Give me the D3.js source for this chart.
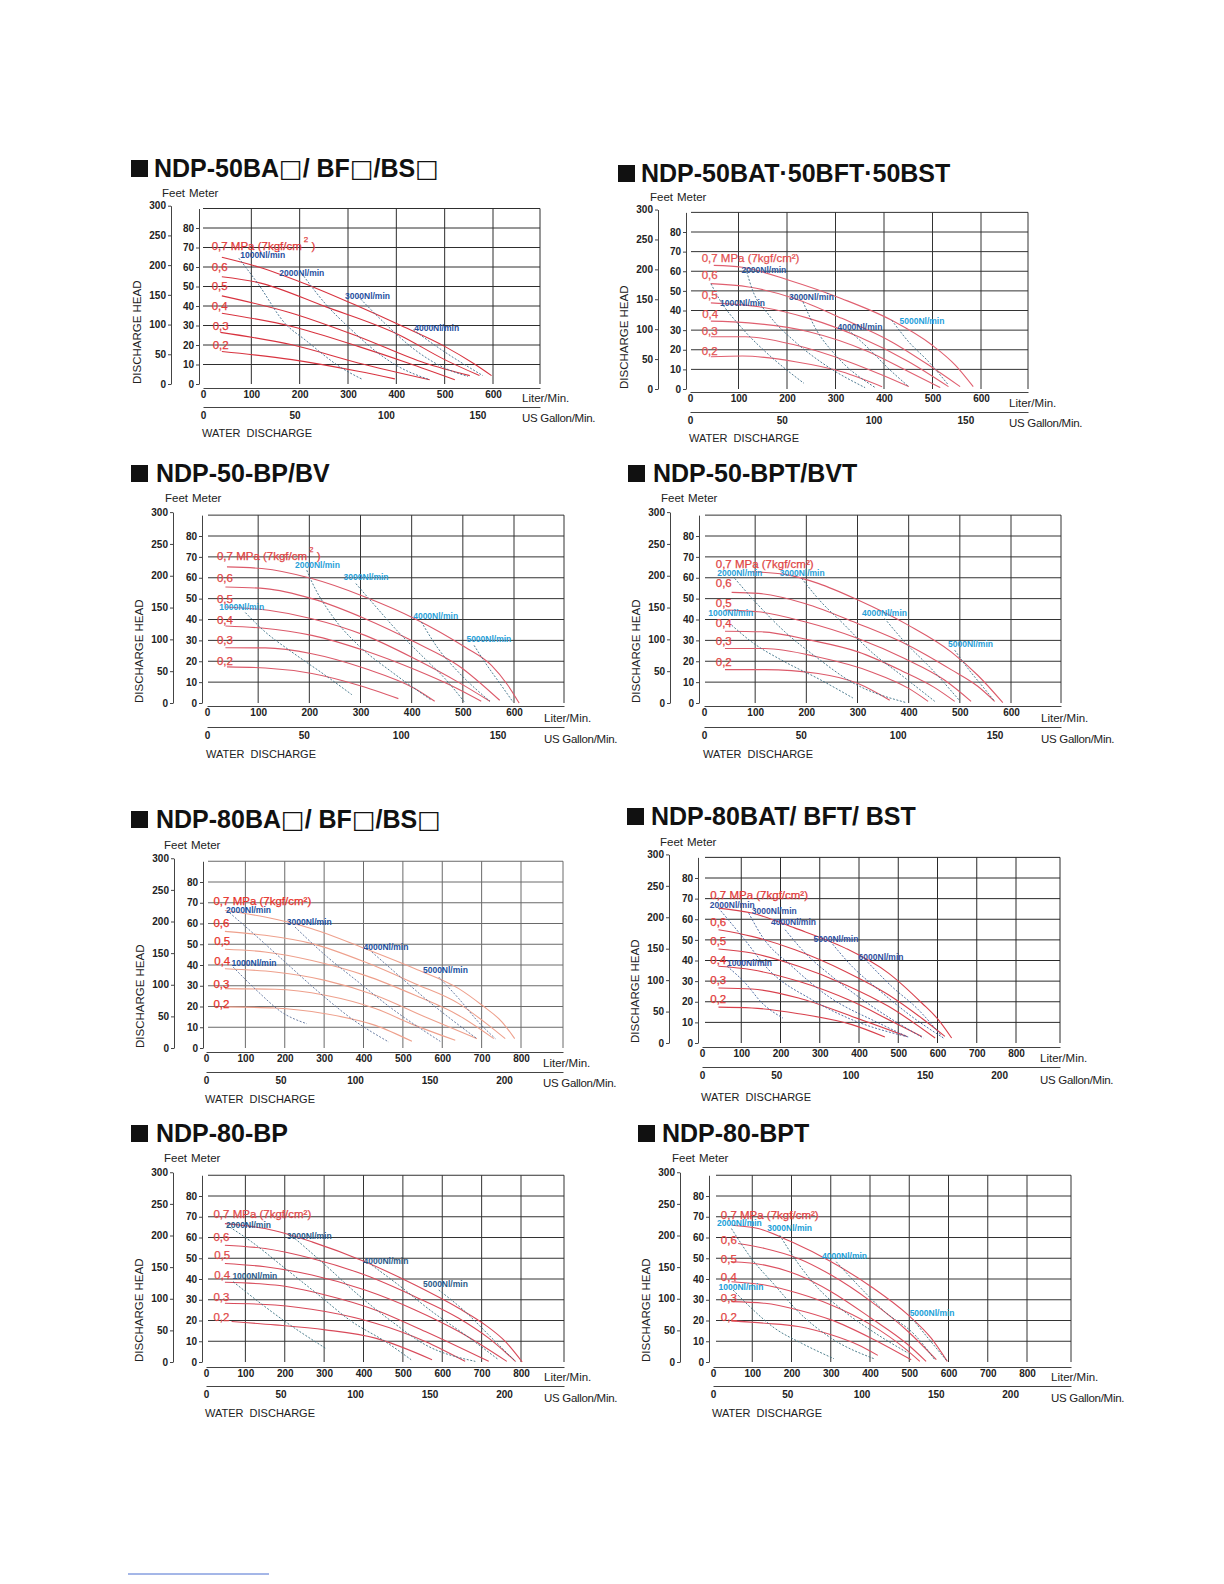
<!DOCTYPE html>
<html><head><meta charset="utf-8">
<script src="https://cdn.jsdelivr.net/npm/d3@7"></script>
<style>body{margin:0;background:#fff} svg{display:block}</style>
</head><body><svg id="c" width="1224" height="1584"></svg>
<script>
// ---------------- shared tick labels ----------------
const feetTicks = [0, 50, 100, 150, 200, 250, 300];
const meterTicks = [0, 10, 20, 30, 40, 50, 60, 70, 80];
const meterGrid = [10, 20, 30, 40, 50, 60, 70, 80, 90];
const literTicks50 = [0, 100, 200, 300, 400, 500, 600];
const literTicks80 = [0, 100, 200, 300, 400, 500, 600, 700, 800];
const gallonTicks50 = [0, 50, 100, 150];
const gallonTicks80 = [0, 50, 100, 150, 200];
const pressureLabels = ["0,7 MPa (7kgf/cm²)", "0,6", "0,5", "0,4", "0,3", "0,2"];

// ---------------- panel 1 : NDP-50BA□/ BF□/BS□ ----------------
const p1Title = "NDP-50BA□/ BF□/BS□";
const p1Pressure = [
  [[39,65],[115,60],[208,51.7],[320,40],[406,30.4],[500,19.3],[560,10.5],[597,4.3]],
  [[39,55],[115,52],[252,39.8],[405,25.3],[500,12.5],[572,4.3]],
  [[39,45.2],[184,36.3],[321,24.4],[459,10.8],[552,4.3]],
  [[39,36.3],[184,29.5],[321,19.3],[424,10.8],[521,2.2]],
  [[36,26.5],[184,20.1],[321,10.8],[469,2.2]],
  [[39,16.7],[184,12.5],[321,6.5],[397,2.6]]
];
const p1PressureLabelAt = [[18,68.8],[18,58.2],[18,48.3],[18,38],[20,27.8],[20,18.1]];
const p1AirLabels = ["1000Nl/min", "2000Nl/min", "3000Nl/min", "4000Nl/min"];
const p1Air = [
  [[74,64.5],[115,51],[170,31],[211,22.7],[287,8.2],[328,2.6]],
  [[204,56.8],[252,41.5],[307,27.8],[362,15.9],[404,9],[469,2.2]],
  [[321,44.9],[383,29.5],[438,17.6],[500,8.2],[548,3.9]],
  [[435,27.8],[493,17.6],[579,4.3]]
];
const p1AirLabelAt = [[77,64.5],[158,55.5],[294,43.7],[437,27]];

// ---------------- panel 2 : NDP-50BAT·50BFT·50BST ----------------
const p2Title = "NDP-50BAT·50BFT·50BST";
const p2Pressure = [
  [[49,63],[108,62],[204,55.4],[313,46],[416,35],[499,22.4],[547,12.2],[584,1.2]],
  [[43,53.7],[121,52],[217,46],[313,36],[416,24],[492,12.2],[557,1.2]],
  [[43,43.9],[142,41.9],[245,36],[348,26.6],[451,13.9],[533,1.2]],
  [[43,34.6],[121,33.7],[245,29.2],[368,19],[451,8.8],[516,0.7]],
  [[43,26.6],[115,26.6],[217,22.4],[327,13.9],[396,7.1],[451,1.2]],
  [[43,16.4],[108,16.8],[217,13.9],[313,8.8],[396,1.2]]
];
const p2PressureLabelAt = [[24,64.7],[24,55.8],[24,46.1],[25,36.3],[24,27.5],[24,17.3]];
const p2AirLabels = ["1000Nl/min", "2000Nl/min", "3000Nl/min", "4000Nl/min", "5000Nl/min"];
const p2Air = [
  [[43,53.7],[60,46],[108,30.8],[163,17.3],[204,8.8],[235,2.9]],
  [[115,61.4],[128,51],[163,37.6],[217,24],[279,12.2],[361,0.7]],
  [[233,44.4],[259,30.8],[300,17.3],[382,0.7]],
  [[327,30],[368,20.7],[409,10.5],[451,1.2]],
  [[416,35],[451,24],[492,13.9],[533,2]]
];
const p2AirLabelAt = [[62,42.4],[106,59.3],[204,45.6],[304,30.3],[432,32.9]];

// ---------------- panel 3 : NDP-50-BP/BV ----------------
const p3Title = "NDP-50-BP/BV";
const p3Pressure = [
  [[39,65.2],[107,64.4],[205,59.6],[309,50.8],[406,40.4],[504,26.8],[556,18],[588,8.5],[610,0]],
  [[36,55.6],[114,54.8],[205,50],[309,40.4],[406,29.2],[491,18],[572,1.3]],
  [[36,46],[120,44.4],[205,40.4],[309,32.4],[406,21.2],[491,10],[553,0.8]],
  [[36,36.9],[107,35.9],[205,32.4],[309,25],[406,16],[480,8],[536,0.8]],
  [[36,26.5],[114,26.4],[205,23.6],[309,16.5],[406,6.9],[445,0.8]],
  [[39,17.3],[114,16.8],[205,14.1],[296,8.5],[374,2.1]]
];
const p3PressureLabelAt = [[19.5,68.7],[19.5,58],[19.5,48.1],[19.5,38],[19.5,28.1],[19.5,18.4]];
const p3AirLabels = ["1000Nl/min", "2000Nl/min", "3000Nl/min", "4000Nl/min", "5000Nl/min"];
const p3Air = [
  [[75,43.3],[114,34],[166,24.4],[231,13.3],[283,4]],
  [[195,63.6],[205,58],[244,42],[296,27.6],[361,14.9],[439,1.3]],
  [[291,57.2],[322,48.4],[374,34],[426,21.2],[465,11.7],[503,0.5]],
  [[419,38.8],[452,26],[491,14.9],[553,0.8]],
  [[522,27.6],[543,19.6],[575,8.5],[598,0.5]]
];
const p3AirLabelAt = [[24,44.7],[172,64.9],[267,59.1],[403,40.1],[507,29.2]];

// ---------------- panel 4 : NDP-50-BPT/BVT ----------------
const p4Title = "NDP-50-BPT/BVT";
const p4Pressure = [
  [[93,62.9],[158,61.6],[223,57.3],[301,49.3],[399,37.3],[483,24.5],[535,13.3],[584,0.2]],
  [[54,53],[106,52.5],[197,47.7],[301,38],[399,27.7],[483,16],[535,8],[568,0.8]],
  [[41,44.5],[106,43.7],[197,38.9],[301,30.9],[392,21.3],[470,11],[522,0.8]],
  [[41,34.4],[112,34.1],[210,30],[301,24.5],[386,15.5],[450,7.5],[490,0.8]],
  [[41,26.1],[119,26.1],[223,22],[327,14.9],[400,7],[438,0.8]],
  [[41,16],[119,16],[223,14.1],[301,9.3],[363,1.3]]
];
const p4PressureLabelAt = [[23,64.8],[23,55.7],[23,46.1],[23,36.2],[23,27.7],[23,17.6]];
const p4AirLabels = ["1000Nl/min", "2000Nl/min", "3000Nl/min", "4000Nl/min", "5000Nl/min"];
const p4Air = [
  [[54,37.3],[93,29.3],[158,19.7],[223,11.7],[291,2.4]],
  [[60,59.7],[106,46.9],[158,34.1],[223,21.3],[288,10.1],[395,0.2]],
  [[191,59.7],[223,50],[275,37.3],[327,24.5],[386,13.3],[451,0.8]],
  [[353,40.5],[392,29.3],[444,16.5],[499,1.3]],
  [[490,25.3],[516,16.5],[548,6.9],[568,0.8]]
];
const p4AirLabelAt = [[8.5,41.8],[26,60.8],[148,60.8],[309,41.6],[477,26.6]];

// ---------------- panel 5 : NDP-80BA□/ BF□/BS□ ----------------
const p5Title = "NDP-80BA□/ BF□/BS□";
const p5Pressure = [
  [[48,66.3],[150,63.1],[269,57.5],[404,47.9],[531,38.2],[642,28.6],[701,20.6],[752,12.5],[784,4.5]],
  [[48,56.2],[150,54.3],[269,50.3],[404,41.4],[531,31],[642,21.4],[718,10.9],[760,4.5]],
  [[48,47.6],[150,46.3],[269,42.2],[404,35],[531,25.4],[642,15.7],[731,4.5]],
  [[48,38.2],[175,36.6],[303,32.6],[430,25.4],[557,14.9],[688,4.5]],
  [[48,28.6],[175,28.3],[303,25.4],[430,19],[531,10.9],[633,3.7]],
  [[48,19.8],[175,19.3],[303,16.5],[430,10.9],[523,3.2]]
];
const p5PressureLabelAt = [[19,68.8],[19,58.3],[21,49.5],[21,40.2],[19,29.1],[19,19.4]];
const p5AirLabels = ["1000Nl/min", "2000Nl/min", "3000Nl/min", "4000Nl/min", "5000Nl/min"];
const p5Air = [
  [[69,39],[133,27],[192,17.3],[256,11.7]],
  [[53,66.3],[116,55.9],[201,41.4],[286,27],[370,14.1],[464,2.9]],
  [[226,58.3],[303,44.7],[387,31.8],[472,19],[595,3.2]],
  [[421,46.3],[489,35],[557,23.8],[688,4.5]],
  [[591,34.2],[642,23.8],[692,12.5],[735,4.5]]
];
const p5AirLabelAt = [[65,39.5],[51,65],[205,59.4],[400,47.1],[551,36.1]];

// ---------------- panel 6 : NDP-80BAT/ BFT/ BST ----------------
const p6Title = "NDP-80BAT/ BFT/ BST";
const p6Pressure = [
  [[42,65.4],[127,63],[237,55.7],[365,46],[475,33.9],[560,19.4],[602,11.3],[636,2.4]],
  [[42,54.9],[127,51.7],[237,45.2],[365,34.7],[475,23.4],[560,12],[619,3.2]],
  [[42,45.6],[127,43.6],[246,37.2],[365,28.3],[475,17.8],[594,2.4]],
  [[42,37.2],[127,35.5],[246,29.9],[382,20.2],[492,9.7],[560,3.2]],
  [[42,26.7],[127,26.2],[246,21.8],[382,12.9],[522,3.2]],
  [[42,17.4],[127,17],[246,14.2],[382,8.9],[466,2.9]]
];
const p6PressureLabelAt = [[21,69.6],[21,56.9],[21,47.3],[21,38.4],[21,28.8],[21,19.4]];
const p6AirLabels = ["1000Nl/min", "2000Nl/min", "3000Nl/min", "4000Nl/min", "5000Nl/min", "6000Nl/min"];
const p6Air = [
  [[64,37.2],[110,29.1],[153,19.4],[206,12.1]],
  [[42,65.4],[102,51.7],[170,35.5],[280,21],[382,11.3],[526,2.9]],
  [[119,63],[153,51.7],[229,37.2],[322,22.6],[450,9.7],[522,3.2]],
  [[212,54.9],[263,43.6],[331,32.3],[433,17.8],[564,2.4]],
  [[327,49.3],[382,37.2],[450,25.8],[534,12.9],[615,2.4]],
  [[416,40.4],[483,27.5],[551,16.2],[611,3.2]]
];
const p6AirLabelAt = [[64,37.2],[20,65.4],[127,62.5],[176,57],[284,49],[399,40.4]];

// ---------------- panel 7 : NDP-80-BP ----------------
const p7Title = "NDP-80-BP";
const p7Pressure = [
  [[48,66.7],[150,64.3],[269,57.9],[404,48.3],[531,37.1],[642,25.9],[709,17.9],[760,9.9],[803,0]],
  [[48,56.3],[150,54.7],[269,49.9],[404,41.9],[531,31.5],[642,21.1],[718,11.5],[786,0.3]],
  [[48,47.5],[150,45.9],[269,41.9],[404,34.7],[531,25.1],[642,14.7],[764,0.3]],
  [[48,38.4],[175,37.1],[303,32.3],[430,25.1],[557,14.7],[718,0.3]],
  [[48,28.3],[175,27.5],[303,24.3],[430,18.7],[557,9.9],[658,0.3]],
  [[65,19.5],[175,17.9],[303,15.5],[430,11.5],[574,1.1]]
];
const p7PressureLabelAt = [[19,69.2],[19,58.2],[21,49.6],[21,40],[19,29.4],[19,19.8]];
const p7AirLabels = ["1000Nl/min", "2000Nl/min", "3000Nl/min", "4000Nl/min", "5000Nl/min"];
const p7Air = [
  [[69,38.7],[133,29.1],[201,19.5],[303,6.7]],
  [[53,65.9],[116,57.9],[201,45.1],[286,32.3],[370,19.5],[455,9.9],[521,1.1]],
  [[226,59.5],[303,46.7],[387,32.3],[472,19.5],[557,8.3],[684,0.3]],
  [[421,46.7],[489,37.1],[574,24.3],[658,13.1],[743,1.1]],
  [[591,34.7],[658,24.3],[726,11.5],[786,0.3]]
];
const p7AirLabelAt = [[67,39.8],[51,64.8],[205,59.5],[400,47.4],[551,36.3]];

// ---------------- panel 8 : NDP-80-BPT ----------------
const p8Title = "NDP-80-BPT";
const p8Pressure = [
  [[47,65.9],[115,64.3],[200,57.9],[301,48.3],[403,36.3],[497,22.7],[556,11.5],[597,0.3]],
  [[64,57.1],[132,54.7],[217,49.9],[301,41.9],[403,29.1],[497,14.7],[569,1.1]],
  [[47,48.3],[132,46.7],[217,41.9],[301,33.9],[403,21.1],[497,8.3],[543,0.3]],
  [[47,38.7],[132,37.1],[217,33.1],[301,27.5],[403,17.9],[488,6.7],[527,0.3]],
  [[47,29.1],[132,28.3],[217,25.1],[301,20.3],[403,11.5],[505,1.1]],
  [[47,19.8],[132,18.7],[217,17.1],[301,13.1],[369,8.3],[420,3.2]]
];
const p8PressureLabelAt = [[20,68.8],[20,57.1],[20,47.8],[20,39],[20,29.1],[20,19.8]];
const p8AirLabels = ["1000Nl/min", "2000Nl/min", "3000Nl/min", "4000Nl/min", "5000Nl/min"];
const p8Air = [
  [[51,34.7],[98,25.9],[157,16.3],[225,9.1],[308,1.6]],
  [[47,64.3],[98,49.9],[157,37.1],[217,24.3],[301,11.5],[410,1.6]],
  [[170,61.1],[208,49.9],[268,35.5],[335,24.3],[420,13.1],[497,4.3]],
  [[314,48.3],[369,37.1],[437,24.3],[514,13.1],[565,1.1]],
  [[510,20.3],[548,11.5],[597,0.3]]
];
const p8AirLabelAt = [[14,34.6],[10,65.4],[138,63.2],[278,49.6],[501,22.4]];

// ---------------- layout (pixels) & styles ----------------
const FONT = "'Liberation Sans', Arial, Helvetica, sans-serif";
const M_PER_FT = 0.3048, L_PER_GAL = 3.785;

const panels = [
  { title: p1Title, pressure: p1Pressure, pLabelAt: p1PressureLabelAt, air: p1Air, airLabels: p1AirLabels, airAt: p1AirLabelAt,
    liter: literTicks50, gallon: gallonTicks50, detachedSup: true,
    L: {sq:131, tx:154, ty:177, fx:162, fy:197, feetX:171, meterX:199, x0:203, xRef:[600,493], y0:384, y80:228,
        gridLeft:203, gridRight:540, litY:388, galY:407, unitX:522, litUnitY:402, galUnitY:422, wdY:437},
    S: {red:"#e23b3b", redLine:"#d8333f", air:"#3d6b8c", airText:"#1f4f9f", grid:"#2e2e2e"} },
  { title: p2Title, pressure: p2Pressure, pLabelAt: p2PressureLabelAt, air: p2Air, airLabels: p2AirLabels, airAt: p2AirLabelAt,
    liter: literTicks50, gallon: gallonTicks50,
    L: {sq:618, tx:641, ty:182, fx:650, fy:201, feetX:658, meterX:686, x0:690, xRef:[600,981], y0:389, y80:232,
        gridLeft:691, gridRight:1028, litY:392, galY:412, unitX:1009, litUnitY:407, galUnitY:427, wdY:442},
    S: {red:"#e35050", redLine:"#e06070", air:"#3b6b86", airText:["#2b559a","#2b559a","#2b559a","#2b559a","#1ea0dc"], grid:"#333"} },
  { title: p3Title, pressure: p3Pressure, pLabelAt: p3PressureLabelAt, air: p3Air, airLabels: p3AirLabels, airAt: p3AirLabelAt,
    liter: literTicks50, gallon: gallonTicks50, detachedSup: true,
    L: {sq:131, tx:156, ty:482, fx:165, fy:502, feetX:173, meterX:202, x0:207, xRef:[600,514], y0:703, y80:536,
        gridLeft:208, gridRight:564, litY:706, galY:727, unitX:544, litUnitY:722, galUnitY:743, wdY:758},
    S: {red:"#e04545", redLine:"#dc5a6a", air:"#3b6f86", airText:"#2a9fd8", grid:"#333"} },
  { title: p4Title, pressure: p4Pressure, pLabelAt: p4PressureLabelAt, air: p4Air, airLabels: p4AirLabels, airAt: p4AirLabelAt,
    liter: literTicks50, gallon: gallonTicks50,
    L: {sq:628, tx:653, ty:482, fx:661, fy:502, feetX:670, meterX:699, x0:704, xRef:[600,1011], y0:703, y80:536,
        gridLeft:705, gridRight:1061, litY:706, galY:727, unitX:1041, litUnitY:722, galUnitY:743, wdY:758},
    S: {red:"#e04545", redLine:"#dc5a6a", air:"#3b6f86", airText:"#2a9fd8", grid:"#333"} },
  { title: p5Title, pressure: p5Pressure, pLabelAt: p5PressureLabelAt, air: p5Air, airLabels: p5AirLabels, airAt: p5AirLabelAt,
    liter: literTicks80, gallon: gallonTicks80,
    L: {sq:131, tx:156, ty:828, fx:164, fy:849, feetX:174, meterX:203, x0:206, xRef:[800,521], y0:1048, y80:882,
        gridLeft:208, gridRight:563, litY:1052, galY:1072, unitX:543, litUnitY:1067, galUnitY:1087, wdY:1103},
    S: {red:"#e8322a", redLine:"#eea08c", air:"#5a6f9a", airText:"#2050a0", grid:"#6a6a6a"} },
  { title: p6Title, pressure: p6Pressure, pLabelAt: p6PressureLabelAt, air: p6Air, airLabels: p6AirLabels, airAt: p6AirLabelAt,
    liter: literTicks80, gallon: gallonTicks80,
    L: {sq:627, tx:651, ty:825, fx:660, fy:846, feetX:669, meterX:698, x0:702, xRef:[800,1016], y0:1043, y80:878,
        gridLeft:705, gridRight:1060, litY:1047, galY:1067, unitX:1040, litUnitY:1062, galUnitY:1084, wdY:1101},
    S: {red:"#e23a3a", redLine:"#d8404c", air:"#3e5f9a", airText:"#3050a0", grid:"#2a2a2a"} },
  { title: p7Title, pressure: p7Pressure, pLabelAt: p7PressureLabelAt, air: p7Air, airLabels: p7AirLabels, airAt: p7AirLabelAt,
    liter: literTicks80, gallon: gallonTicks80,
    L: {sq:131, tx:156, ty:1142, fx:164, fy:1162, feetX:173, meterX:202, x0:206, xRef:[800,521], y0:1362, y80:1196,
        gridLeft:208, gridRight:564, litY:1367, galY:1386, unitX:544, litUnitY:1381, galUnitY:1402, wdY:1417},
    S: {red:"#e24a4a", redLine:"#d84a5a", air:"#3a7080", airText:"#2a5a8a", grid:"#333"} },
  { title: p8Title, pressure: p8Pressure, pLabelAt: p8PressureLabelAt, air: p8Air, airLabels: p8AirLabels, airAt: p8AirLabelAt,
    liter: literTicks80, gallon: gallonTicks80,
    L: {sq:638, tx:662, ty:1142, fx:672, fy:1162, feetX:680, meterX:709, x0:713, xRef:[800,1027], y0:1362, y80:1196,
        gridLeft:716, gridRight:1071, litY:1367, galY:1386, unitX:1051, litUnitY:1381, galUnitY:1402, wdY:1417},
    S: {red:"#e24545", redLine:"#dc5060", air:"#3a7080", airText:"#20a0d8", grid:"#333"} }
];

const svg = d3.select("#c");
svg.append("rect").attr("width", 1224).attr("height", 1584).attr("fill", "#fff");

function drawPanel(P) {
  const L = P.L, S = P.S;
  const g = svg.append("g").attr("font-family", FONT);
  const x = d3.scaleLinear().domain([0, L.xRef[0]]).range([L.x0, L.xRef[1]]);
  const y = d3.scaleLinear().domain([0, 80]).range([L.y0, L.y80]);
  const xMax = x.invert(L.gridRight);

  // title: black square + text, □ glyphs in a lighter outline font
  g.append("rect").attr("x", L.sq).attr("y", L.ty - 17).attr("width", 17).attr("height", 17).attr("fill", "#111");
  const tt = g.append("text").attr("x", L.tx).attr("y", L.ty).attr("font-size", 25).attr("font-weight", "bold")
    .attr("fill", "#111");
  P.title.split("□").forEach((part, i, arr) => {
    tt.append("tspan").text(part);
    if (i < arr.length - 1) {
      tt.append("tspan").attr("font-family", "'DejaVu Sans', sans-serif").attr("font-weight", "normal")
        .attr("font-size", 25).text("□");
    }
  });

  // grid
  g.append("g").selectAll("line").data(meterGrid).join("line")
    .attr("x1", L.gridLeft).attr("x2", L.gridRight).attr("y1", d => y(d)).attr("y2", d => y(d))
    .attr("stroke", S.grid).attr("stroke-width", 1);
  g.append("g").selectAll("line").data(P.liter.filter(d => d > 0).concat([xMax])).join("line")
    .attr("x1", d => x(d)).attr("x2", d => x(d)).attr("y1", y(0)).attr("y2", y(90))
    .attr("stroke", S.grid).attr("stroke-width", 1);

  // feet axis
  const yFeet = d3.scaleLinear().domain([0, 300]).range([y(0), y(300 * M_PER_FT)]);
  const fa = g.append("g").attr("transform", `translate(${L.feetX},0)`)
    .call(d3.axisLeft(yFeet).tickValues(feetTicks).tickSizeInner(3).tickSizeOuter(0).tickPadding(2));
  // meter axis
  const yAx = y.copy().domain([0, 90]).range([y(0), y(90)]);
  const ma = g.append("g").attr("transform", `translate(${L.meterX},0)`)
    .call(d3.axisLeft(yAx).tickValues(meterTicks).tickSizeInner(3).tickSizeOuter(0).tickPadding(2));
  // liter axis
  const xAx = x.copy().domain([0, xMax]).range([x(0), L.gridRight]);
  const la = g.append("g").attr("transform", `translate(0,${L.litY})`)
    .call(d3.axisBottom(xAx).tickValues(P.liter).tickSize(0).tickPadding(3));
  // gallon axis
  const gMax = xMax / L_PER_GAL;
  const xGal = d3.scaleLinear().domain([0, gMax]).range([x(0), L.gridRight]);
  const ga = g.append("g").attr("transform", `translate(0,${L.galY})`)
    .call(d3.axisBottom(xGal).tickValues(P.gallon).tickSize(0).tickPadding(4.5));
  [fa, ma, la, ga].forEach(a => {
    a.selectAll("text").attr("font-size", 10).attr("font-weight", "bold").attr("fill", "#222").attr("font-family", FONT);
    a.selectAll("path,line").attr("stroke", "#444").attr("stroke-width", 1);
  });

  // axis captions
  const cap = (tx, ty, t) => g.append("text").attr("x", tx).attr("y", ty).attr("font-size", 11.5).attr("fill", "#222").text(t);
  cap(L.fx, L.fy, "Feet");
  cap(L.fx + 27, L.fy, "Meter");
  cap(L.unitX, L.litUnitY, "Liter/Min.");
  cap(L.unitX, L.galUnitY, "US Gallon/Min.").attr("letter-spacing", -0.3);
  cap(x(0) - 1, L.wdY, "WATER  DISCHARGE").attr("font-size", 11).style("white-space", "pre");
  g.append("text").attr("transform", `translate(${L.feetX - 30},${L.y0}) rotate(-90)`)
    .attr("font-size", 11.5).attr("fill", "#222").text("DISCHARGE HEAD");

  // pressure curves
  const line = d3.line().x(d => x(d[0])).y(d => y(d[1])).curve(d3.curveMonotoneX);
  g.append("g").selectAll("path").data(P.pressure).join("path")
    .attr("d", line).attr("fill", "none").attr("stroke", S.redLine).attr("stroke-width", 1.1);
  // air consumption curves
  g.append("g").selectAll("path").data(P.air).join("path")
    .attr("d", line).attr("fill", "none").attr("stroke", S.air).attr("stroke-width", 0.9)
    .attr("stroke-dasharray", "2,1.6");

  // pressure labels
  P.pLabelAt.forEach((p, i) => {
    const t = g.append("text").attr("x", x(p[0])).attr("y", y(p[1])).attr("font-size", 11.5).attr("fill", S.red)
      .attr("stroke", S.red).attr("stroke-width", 0.25);
    if (i === 0 && P.detachedSup) {
      t.append("tspan").text("0,7 MPa (7kgf/cm");
      t.append("tspan").attr("dy", -8).attr("dx", 2).attr("font-size", 8).text("2");
      t.append("tspan").attr("dy", 8).text(" )");
    } else {
      t.text(pressureLabels[i]);
    }
  });
  // air labels
  P.airAt.forEach((p, i) => {
    const col = Array.isArray(S.airText) ? S.airText[i] : S.airText;
    g.append("text").attr("x", x(p[0])).attr("y", y(p[1])).attr("font-size", 8.5).attr("font-weight", "bold")
      .attr("fill", col).text(P.airLabels[i]);
  });
}

panels.forEach(drawPanel);

// footer link line
svg.append("line").attr("x1", 128).attr("x2", 269).attr("y1", 1574).attr("y2", 1574)
  .attr("stroke", "#4a6fd0").attr("stroke-width", 1);
</script></body></html>
